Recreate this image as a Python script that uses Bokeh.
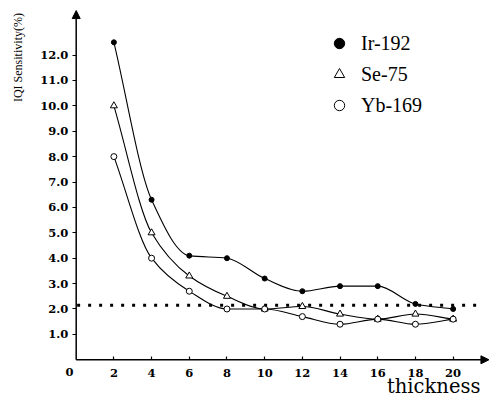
import numpy as np
from bokeh.plotting import figure
from bokeh.models import (Range1d, FixedTicker, Label, Arrow, NormalHead,
                          Legend, LegendItem, ColumnDataSource)
from bokeh.embed import file_html
from bokeh.resources import INLINE

# ---- data ----
thickness = [2, 4, 6, 8, 10, 12, 14, 16, 18, 20]
ir192 = [12.5, 6.3, 4.1, 4.0, 3.2, 2.7, 2.9, 2.9, 2.2, 2.0]
se75 = [10.0, 5.0, 3.3, 2.5, 2.0, 2.1, 1.8, 1.6, 1.8, 1.6]
yb169 = [8.0, 4.0, 2.7, 2.0, 2.0, 1.7, 1.4, 1.6, 1.4, 1.6]
threshold = 2.15
x_ticks = [2, 4, 6, 8, 10, 12, 14, 16, 18, 20]
y_ticks = [1, 2, 3, 4, 5, 6, 7, 8, 9, 10, 11, 12]
series_names = ["Ir-192", "Se-75", "Yb-169"]

TICK_FONT = "DejaVu Serif"
SERIF = "Liberation Serif"

p = figure(width=489, height=398, output_backend="svg", toolbar_location=None,
           x_range=Range1d(-4.016, 21.93), y_range=Range1d(-1.524, 14.146),
           min_border_left=0, min_border_right=0, min_border_top=0,
           min_border_bottom=0)
p.outline_line_color = None
p.grid.visible = False
p.background_fill_color = "white"

for ax in (p.xaxis[0], p.yaxis[0]):
    ax.fixed_location = 0
    ax.axis_line_color = None
    ax.major_tick_line_color = "black"
    ax.major_tick_line_width = 1.2
    ax.minor_tick_line_color = None
    ax.major_label_text_font = TICK_FONT
    ax.major_label_text_font_style = "bold"
    ax.major_label_text_font_size = "11.5px"
    ax.major_label_text_color = "black"

p.xaxis.ticker = FixedTicker(ticks=x_ticks)
p.xaxis.major_tick_in = 3
p.xaxis.major_tick_out = 0
p.xaxis.major_label_standoff = 9

p.yaxis.ticker = FixedTicker(ticks=y_ticks)
p.yaxis.major_label_overrides = {t: f"{t:.1f}" for t in y_ticks}
p.yaxis.major_tick_in = 0
p.yaxis.major_tick_out = 4
p.yaxis.major_label_standoff = 4


def monotone_bezier(xs, ys):
    xs = np.asarray(xs, float)
    ys = np.asarray(ys, float)
    h = np.diff(xs)
    d = np.diff(ys) / h
    n = len(xs)
    m = np.zeros(n)
    m[0] = d[0]
    m[-1] = d[-1]
    for i in range(1, n - 1):
        if d[i - 1] * d[i] <= 0:
            m[i] = 0.0
        else:
            w1 = 2 * h[i] + h[i - 1]
            w2 = h[i] + 2 * h[i - 1]
            m[i] = (w1 + w2) / (w1 / d[i - 1] + w2 / d[i])
    return dict(x0=xs[:-1], y0=ys[:-1], x1=xs[1:], y1=ys[1:],
                cx0=xs[:-1] + h / 3, cy0=ys[:-1] + m[:-1] * h / 3,
                cx1=xs[1:] - h / 3, cy1=ys[1:] - m[1:] * h / 3)


# threshold dotted line
p.line([0.05, 21.3], [threshold, threshold], line_color="black",
       line_width=3, line_dash="3 8")

for ys in (ir192, se75, yb169):
    src = ColumnDataSource(monotone_bezier(thickness, ys))
    p.bezier(x0="x0", y0="y0", x1="x1", y1="y1", cx0="cx0", cy0="cy0",
             cx1="cx1", cy1="cy1", source=src, line_color="black",
             line_width=1.1)

r_ir = p.scatter(thickness, ir192, marker="circle", size=5,
                 fill_color="black", line_color="black")
r_se = p.scatter(thickness, se75, marker="triangle", size=7,
                 fill_color="white", line_color="black", line_width=1)
r_yb = p.scatter(thickness, yb169, marker="circle", size=6,
                 fill_color="white", line_color="black", line_width=1)

# axis lines with arrow heads
p.add_layout(Arrow(end=NormalHead(size=8, fill_color="black", line_color="black"),
                   x_start=0, y_start=0, x_end=0, y_end=13.75,
                   line_color="black", line_width=1.5))
p.add_layout(Arrow(end=NormalHead(size=8, fill_color="black", line_color="black"),
                   x_start=0, y_start=0, x_end=21.9, y_end=0,
                   line_color="black", line_width=1.5))

legend = Legend(items=[LegendItem(label=series_names[0], renderers=[r_ir]),
                       LegendItem(label=series_names[1], renderers=[r_se]),
                       LegendItem(label=series_names[2], renderers=[r_yb])],
                location=(326, 280), orientation="vertical",
                glyph_width=26, glyph_height=26, label_height=26,
                spacing=5, padding=0, margin=0, label_standoff=9,
                label_text_font=SERIF, label_text_font_size="20px",
                label_text_color="black",
                border_line_color=None, background_fill_alpha=0)
p.add_layout(legend)

p.add_layout(Label(x=-0.355, y=-0.49, text="0", text_font=TICK_FONT,
                   text_font_style="bold", text_font_size="11.5px",
                   text_color="black",
                   text_align="center", text_baseline="middle"))
p.add_layout(Label(x=-3.09, y=11.9, text="IQI Sensitivity(%)", angle=np.pi / 2,
                   text_font=SERIF, text_font_size="12px", text_color="black",
                   text_align="center", text_baseline="middle"))
p.add_layout(Label(x=21.45, y=-1.06, text="thickness", text_font="DejaVu Serif",
                   text_font_size="19.5px", text_color="black",
                   text_align="right", text_baseline="middle"))

open("out.html", "w").write(file_html(p, INLINE))
